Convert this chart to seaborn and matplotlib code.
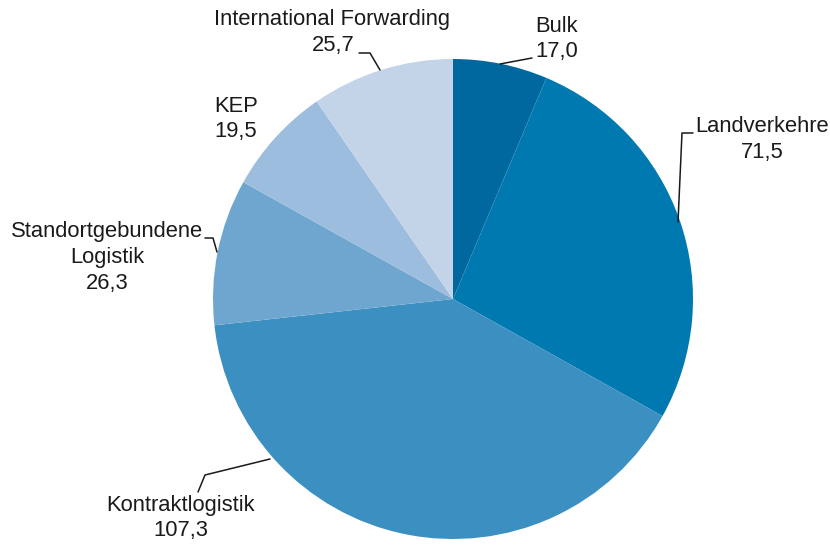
import numpy as np
import matplotlib
matplotlib.use("Agg")
import matplotlib.pyplot as plt
import seaborn as sns

categories = ["Bulk", "Landverkehre", "Kontraktlogistik", "Standortgebundene\nLogistik", "KEP", "International Forwarding"]
values = [17.0, 71.5, 107.3, 26.3, 19.5, 25.7]
value_labels = ["17,0", "71,5", "107,3", "26,3", "19,5", "25,7"]
colors = ["#00689e", "#0079b1", "#3b8fc1", "#6ea6cf", "#9cbddd", "#c3d4e9"]

sns.set_theme(style="white")
plt.rcParams['font.family'] = ['Liberation Sans', 'DejaVu Sans']

W, H = 830, 547
fig = plt.figure(figsize=(W / 100, H / 100), dpi=100)
ax = fig.add_axes([0, 0, 1, 1])

cx, cy, r = 453, H - 299, 240
ax.pie(values, colors=colors, startangle=90, counterclock=False, center=(cx, cy),
       radius=r, frame=True, wedgeprops=dict(linewidth=0))
ax.set_xlim(0, W)
ax.set_ylim(0, H)
ax.set_aspect("equal")
ax.axis("off")

def py(y):
    return H - y

# label layout: (text x, text y first line, ha, leader polyline in pixel coords)
layout = [
    (557, 26, "center", [(500, 64), (532, 58)]),
    (762, 127, "center", [(678, 222), (682, 133), (693, 133)]),
    (181, 505, "center", [(270, 459), (205, 475), (198, 492)]),
    (107, 232, "center", [(217, 252), (213, 238), (205, 238)]),
    (214, 106, "left", None),
    (332, 20, "center", [(380, 70), (370, 53), (359, 53)]),
]

fs = 15.8
lh = 25.5
for (tx, ty, ha, line), cat, vl in zip(layout, categories, value_labels):
    lines = cat.split("\n") + [vl]
    for i, t in enumerate(lines):
        x = tx
        ha_i = ha
        if cat == "Landverkehre" and i == 0:
            x, ha_i = 695, "left"
        elif cat == "International Forwarding" and i == 1:
            x = 333
        ax.text(x, py(ty + i * lh), t, ha=ha_i, va="center", fontsize=fs, color="#1a1a1a")
    if line:
        xs = [p[0] for p in line]
        ys = [py(p[1]) for p in line]
        ax.plot(xs, ys, color="#1a1a1a", linewidth=1.1)

fig.savefig("out.png", dpi=100)
